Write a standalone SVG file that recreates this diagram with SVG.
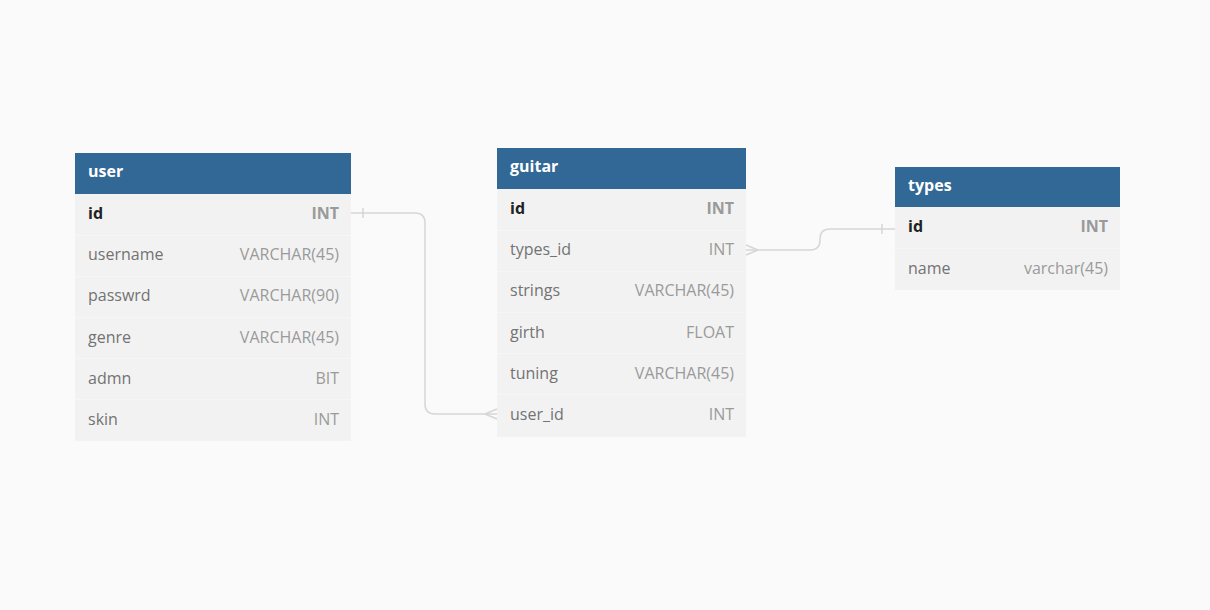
<svg xmlns="http://www.w3.org/2000/svg" width="1210" height="610" viewBox="0 0 1210 610">
<style>
.bg{fill:#fafafa}
.hdr{fill:#316896}
.row{fill:#f2f2f2}
.sep{stroke:#f6f6f6;stroke-width:1}
.title{font-family:"Open Sans",sans-serif;font-size:16px;font-weight:bold;fill:#ffffff}
.pk{font-family:"Open Sans",sans-serif;font-size:16px;font-weight:bold;fill:#222222}
.pkt{font-family:"Open Sans",sans-serif;font-size:16px;font-weight:bold;fill:#9a9a9a;text-anchor:end}
.col{font-family:"Open Sans",sans-serif;font-size:16px;fill:#737373}
.typ{font-family:"Open Sans",sans-serif;font-size:16px;fill:#9a9a9a;text-anchor:end}
.conn{fill:none;stroke:#d6d6d6;stroke-width:1.5}
</style>
<rect class="bg" x="0" y="0" width="1210" height="610"/>
<g id="connectors">
<path class="conn" d="M351,213 H415 Q425,213 425,223 V404 Q425,414 435,414 H497"/>
<path class="conn" d="M363,208 V218"/>
<path class="conn" d="M485,414 L497,409 M485,414 L497,419"/>
<path class="conn" d="M746,250 H810 Q820,250 820,240 V239 Q820,229 830,229 H895"/>
<path class="conn" d="M882,224 V234"/>
<path class="conn" d="M758,250 L746,245 M758,250 L746,255"/>
</g>
<g id="user">
<rect class="hdr" x="75" y="153" width="276" height="41"/>
<rect class="row" x="75" y="194" width="276" height="247"/>
<path class="sep" d="M75,235.5 H351 M75,276.5 H351 M75,317.5 H351 M75,358.5 H351 M75,399.5 H351"/>
<text class="title" x="88" y="177">user</text>
<text class="pk" x="88" y="219">id</text><text class="pkt" x="339" y="219">INT</text>
<text class="col" x="88" y="260">username</text><text class="typ" x="339" y="260">VARCHAR(45)</text>
<text class="col" x="88" y="301">passwrd</text><text class="typ" x="339" y="301">VARCHAR(90)</text>
<text class="col" x="88" y="343">genre</text><text class="typ" x="339" y="343">VARCHAR(45)</text>
<text class="col" x="88" y="384">admn</text><text class="typ" x="339" y="384">BIT</text>
<text class="col" x="88" y="425">skin</text><text class="typ" x="339" y="425">INT</text>
</g>
<g id="guitar">
<rect class="hdr" x="497" y="148" width="249" height="41"/>
<rect class="row" x="497" y="189" width="249" height="248"/>
<path class="sep" d="M497,230.5 H746 M497,271.5 H746 M497,312.5 H746 M497,353.5 H746 M497,394.5 H746"/>
<text class="title" x="510" y="172">guitar</text>
<text class="pk" x="510" y="214">id</text><text class="pkt" x="734" y="214">INT</text>
<text class="col" x="510" y="255">types_id</text><text class="typ" x="734" y="255">INT</text>
<text class="col" x="510" y="296">strings</text><text class="typ" x="734" y="296">VARCHAR(45)</text>
<text class="col" x="510" y="338">girth</text><text class="typ" x="734" y="338">FLOAT</text>
<text class="col" x="510" y="379">tuning</text><text class="typ" x="734" y="379">VARCHAR(45)</text>
<text class="col" x="510" y="420">user_id</text><text class="typ" x="734" y="420">INT</text>
</g>
<g id="types">
<rect class="hdr" x="895" y="167" width="225" height="40"/>
<rect class="row" x="895" y="207" width="225" height="83"/>
<path class="sep" d="M895,248.5 H1120"/>
<text class="title" x="908" y="191">types</text>
<text class="pk" x="908" y="232">id</text><text class="pkt" x="1108" y="232">INT</text>
<text class="col" x="908" y="274">name</text><text class="typ" x="1108" y="274">varchar(45)</text>
</g>
</svg>
